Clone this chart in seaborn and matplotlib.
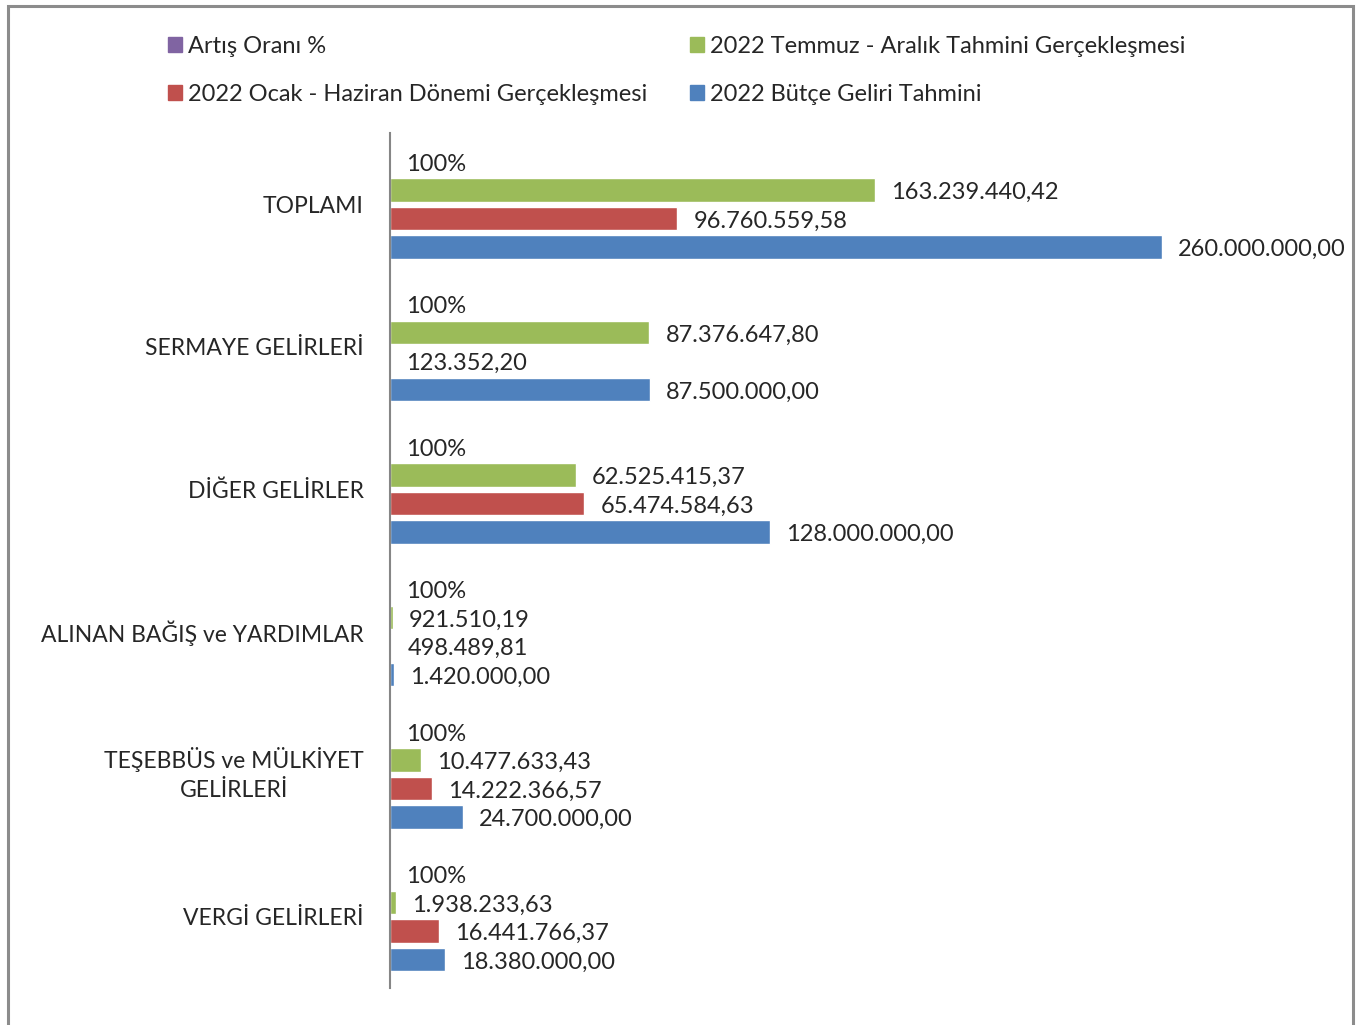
import numpy as np
import pandas as pd
import matplotlib.pyplot as plt
import seaborn as sns
from matplotlib.patches import Patch, Rectangle

# --- data ---
categories = [
    "TOPLAMI",
    "SERMAYE GELİRLERİ",
    "DİĞER GELİRLER",
    "ALINAN BAĞIŞ ve YARDIMLAR",
    "TEŞEBBÜS ve MÜLKİYET\nGELİRLERİ",
    "VERGİ GELİRLERİ",
]
series = [
    "Artış Oranı %",
    "2022 Temmuz - Aralık Tahmini Gerçekleşmesi",
    "2022 Ocak - Haziran Dönemi Gerçekleşmesi",
    "2022 Bütçe Geliri Tahmini",
]
artis_orani = [100, 100, 100, 100, 100, 100]
temmuz_aralik = [163239440.42, 87376647.80, 62525415.37, 921510.19, 10477633.43, 1938233.63]
ocak_haziran = [96760559.58, 123352.20, 65474584.63, 498489.81, 14222366.57, 16441766.37]
butce_tahmini = [260000000.00, 87500000.00, 128000000.00, 1420000.00, 24700000.00, 18380000.00]

colors = ["#8064A2", "#9BBB59", "#C0504D", "#4F81BD"]


def tr_fmt(v):
    s = f"{v:,.2f}"
    return s.replace(",", "X").replace(".", ",").replace("X", ".")


wide = pd.DataFrame({
    "Kalem": categories,
    series[0]: np.array(artis_orani) / 100,   # ratio bar (practically invisible)
    series[1]: temmuz_aralik,
    series[2]: ocak_haziran,
    series[3]: butce_tahmini,
})
df = wide.melt(id_vars="Kalem", var_name="Seri", value_name="Tutar")

sns.set_style("white")
plt.rcParams["font.family"] = ["Lato", "DejaVu Sans"]
FS = 17

W, H = 1362, 1025
fig = plt.figure(figsize=(W / 100, H / 100), dpi=100)
ax = fig.add_axes([390 / W, 37 / H, 772 / W, 855 / H])

sns.barplot(data=df, y="Kalem", x="Tutar", hue="Seri", order=categories,
            hue_order=series, palette=colors, orient="h", width=0.8, gap=0.19,
            saturation=1, legend=False, ax=ax)

label_sets = [
    [f"{p}%" for p in artis_orani],
    [tr_fmt(v) for v in temmuz_aralik],
    [tr_fmt(v) for v in ocak_haziran],
    [tr_fmt(v) for v in butce_tahmini],
]
for cont, labels in zip(ax.containers, label_sets):
    anns = ax.bar_label(cont, labels=labels, padding=11.5, fontsize=FS,
                        annotation_clip=False)
    for a in anns:
        a.xyann = (11.5, -2)

ax.set_xlim(0, 260_000_000)
ax.set_ylim(len(categories) - 0.5, -0.5)
ax.set_xlabel("")
ax.set_ylabel("")
ax.set_xticks([])
ax.tick_params(axis="y", length=0, pad=19, labelsize=16.5)
for t in ax.get_yticklabels():
    t.set_multialignment("center")
    t.set_linespacing(1.45)
    if "\n" in t.get_text():
        t.set_verticalalignment("center")
for s in ["top", "right", "bottom"]:
    ax.spines[s].set_visible(False)
ax.spines["left"].set_color("#868686")
ax.spines["left"].set_linewidth(1.5)

# legend: two rows, filled column-wise
order = [0, 2, 1, 3]
handles = [Patch(color=colors[i]) for i in order]
fig.legend(handles, [series[i] for i in order], ncol=2, loc="upper left",
           bbox_to_anchor=(168 / W, 1 - 36 / H), frameon=False, fontsize=FS,
           handlelength=0.6, handleheight=0.6, handletextpad=0.25,
           columnspacing=1.82, labelspacing=1.15, borderpad=0, borderaxespad=0)

# outer chart frame
fig.add_artist(Rectangle((8 / W, -0.02), (1353 - 8) / W, 1.02 - 6 / H,
                         transform=fig.transFigure, fill=False,
                         edgecolor="#8c8c8c", linewidth=2.2))

fig.savefig("out.png", dpi=100)
